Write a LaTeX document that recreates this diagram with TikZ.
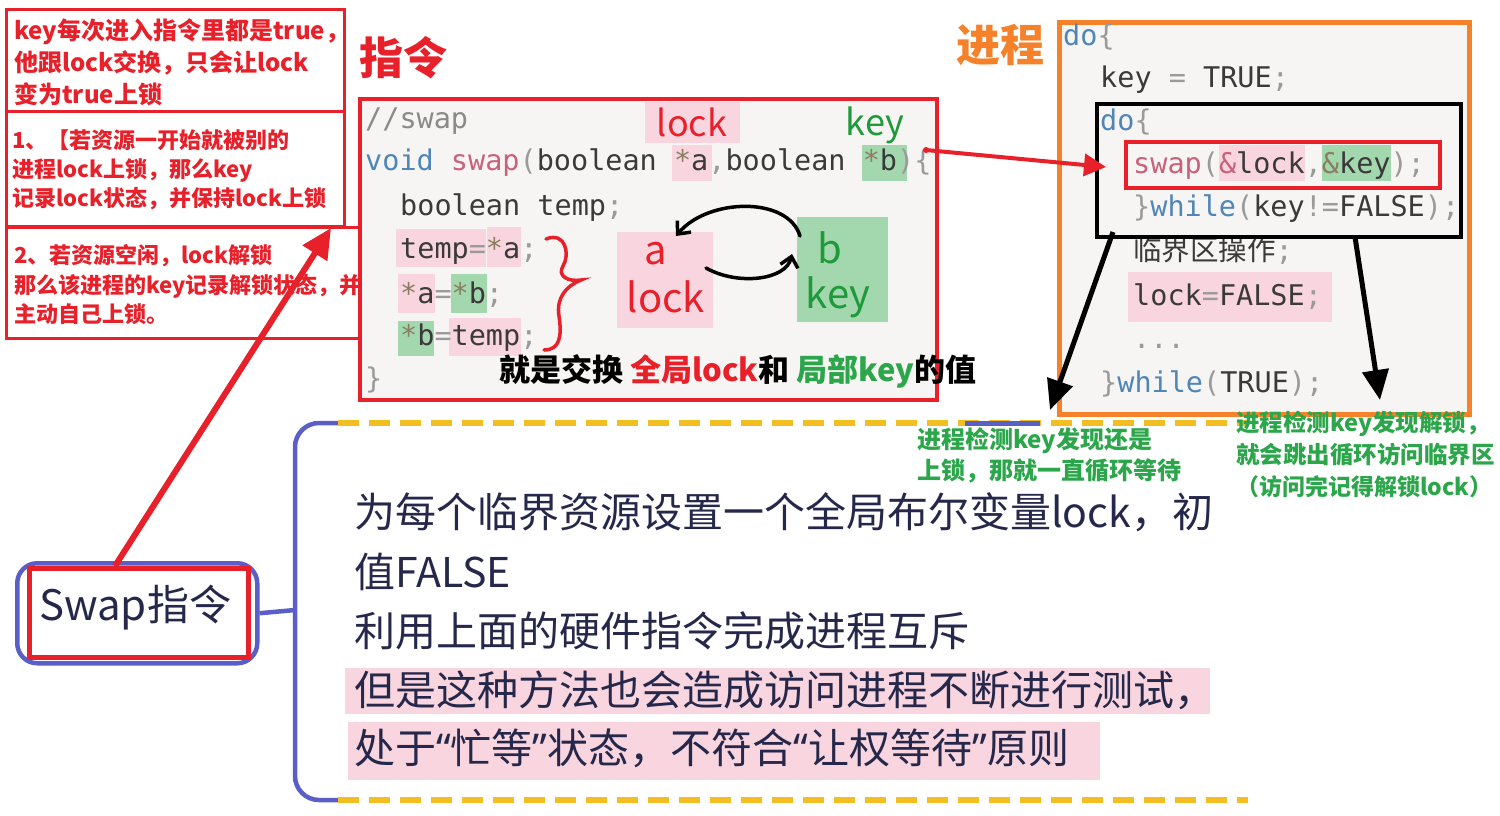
\documentclass[tikz,border=0pt]{standalone}
\usepackage{fontspec}
\setmainfont{Noto Sans CJK SC}
\newfontfamily\monof{DejaVu Sans Mono}
\newfontfamily\latf{Noto Sans}
\usetikzlibrary{arrows.meta}
\definecolor{redc}{HTML}{E8202A}
\definecolor{orangec}{HTML}{F5822A}
\definecolor{greenc}{HTML}{2BA64A}
\definecolor{handgreen}{HTML}{1F9A3A}
\definecolor{pinkbg}{HTML}{F9D6DF}
\definecolor{greenbg}{HTML}{A3D7AE}
\definecolor{codebg}{HTML}{F7F5F4}
\definecolor{navy}{HTML}{25284A}
\definecolor{blueline}{HTML}{5A5FC8}
\definecolor{yellowd}{HTML}{F2BE22}
\definecolor{kwblue}{HTML}{4F86B8}
\definecolor{swapcol}{HTML}{C8627A}
\definecolor{codegray}{HTML}{3A3A3A}
\definecolor{punct}{HTML}{9A9A9A}
\definecolor{starc}{HTML}{8B7D60}
\definecolor{cmt}{HTML}{8A8A8A}
\newcommand\fsz[1]{\fontsize{#1}{#1}\selectfont}
\newcommand\kw[1]{\textcolor{kwblue}{#1}}
\newcommand\sw[1]{\textcolor{swapcol}{#1}}
\newcommand\pu[1]{\textcolor{punct}{#1}}
\newcommand\st{\textcolor{starc}{*}}
\newcommand\myopq{{\latf “}}
\newcommand\myclq{{\latf ”}}
\tikzset{
  notebox/.style={draw=redc, line width=3pt, inner sep=0pt, anchor=north west},
  notetxt/.style={anchor=base west, inner sep=0pt, text=redc, font=\fsz{22}\bfseries},
  codetxt/.style={anchor=base west, inner sep=0pt, text=codegray, font=\monof\fsz{28.5}},
  gtxt/.style={anchor=base west, inner sep=0pt, text=greenc, font=\fsz{24}\bfseries},
  btxt/.style={anchor=base west, inner sep=0pt, text=navy, font=\fsz{41}},
  hand/.style={inner sep=0pt, font=\fsz{40}},
  title/.style={inner sep=0pt, font=\fsz{44}\bfseries},
  blackarrow/.style={line width=5pt, -{Triangle[length=30pt,width=26pt]}},
  yellowdash/.style={yellowd, line width=6pt, dash pattern=on 21pt off 10pt},
}
\begin{document}
\begin{tikzpicture}[x=1pt,y=-1pt]
\useasboundingbox (0,0) rectangle (1500,815);
\fill[white] (0,0) rectangle (1500,815);

% ---------- top-left notes ----------
\node[notebox, minimum width=338pt, minimum height=102pt] (note1) at (5,8) {};
\node[notebox, minimum width=338pt, minimum height=115pt] (note2) at (5,110) {};
\node[notebox, minimum width=353pt, minimum height=111pt] (note3) at (5,226) {};
\node[notetxt, font=\fsz{24}\bfseries] (n1a) at (14,39) {key每次进入指令里都是true，};
\node[notetxt, font=\fsz{24}\bfseries] (n1b) at (14,71) {他跟lock交换，只会让lock};
\node[notetxt, font=\fsz{24}\bfseries] (n1c) at (14,103) {变为true上锁};
\node[notetxt, font=\fsz{22}\bfseries] (n2a) at (12,148) {1、【若资源一开始就被别的};
\node[notetxt, font=\fsz{22}\bfseries] (n2b) at (12,177) {进程lock上锁，那么key};
\node[notetxt, font=\fsz{22}\bfseries] (n2c) at (12,206) {记录lock状态，并保持lock上锁};
\node[notetxt, font=\fsz{22}\bfseries] (n3a) at (14,263) {2、若资源空闲，lock解锁};
\node[notetxt, font=\fsz{22}\bfseries] (n3b) at (14,293) {那么该进程的key记录解锁状态，并};
\node[notetxt, font=\fsz{22}\bfseries] (n3c) at (14,322) {主动自己上锁。};

% ---------- titles ----------
\node[title, text=redc] (t1) at (403,58) {指令};
\node[title, text=orangec] (t2) at (1000,45) {进程};

% ---------- code box (swap) ----------
\node[draw=redc, line width=4pt, fill=codebg, minimum width=577pt, minimum height=301pt, anchor=north west, inner sep=0pt] (codebox) at (358,97) {};
\begin{scope}
\clip (360,99) rectangle (933,396);
\fill[pinkbg] (645,102) rectangle (740,143);
\fill[pinkbg] (672,145) rectangle (712,181);
\fill[greenbg] (862,145) rectangle (907,181);
\fill[pinkbg] (396,229) rectangle (486,267);
\fill[pinkbg] (487,227) rectangle (521,267);
\fill[pinkbg] (398,274) rectangle (435,313);
\fill[greenbg] (451,274) rectangle (487,313);
\fill[greenbg] (398,321) rectangle (434,356);
\fill[pinkbg] (449,318) rectangle (521,356);
\fill[pinkbg] (617,232) rectangle (713,328);
\fill[greenbg] (797,217) rectangle (888,322);
\node[codetxt] (c1) at (365,128) {\textcolor{cmt}{//swap}};
\node[codetxt] (c2) at (365,170) {\kw{void} \sw{swap}\pu{(}boolean \st a\pu{,}boolean \st b\pu{)\{}};
\node[codetxt] (c3) at (400,215) {boolean temp\pu{;}};
\node[codetxt] (c4) at (400,258) {temp\pu{=}\st a\pu{;}};
\node[codetxt] (c5) at (400,303) {\st a\pu{=}\st b\pu{;}};
\node[codetxt] (c6) at (400,345) {\st b\pu{=}temp\pu{;}};
\node[codetxt] (c7) at (365,388) {\pu{\}}};
\end{scope}
\node[hand, text=redc, font=\fsz{36}] (hlock) at (692,122) {lock};
\node[hand, text=handgreen, font=\fsz{36}] (hkey) at (875,125) {key};
\node[hand, text=redc] (ha) at (656,254) {a};
\node[hand, text=redc] (hlock2) at (666,297) {lock};
\node[hand, text=handgreen] (hb) at (830,248) {b};
\node[hand, text=handgreen] (hkey2) at (838,297) {key};
% brace
\draw[redc, line width=3.5pt, line cap=round]
  (546,239) .. controls (566,231) and (570,255) .. (563,266)
  .. controls (557,276) and (568,282) .. (581,280)
  .. controls (566,286) and (556,298) .. (559,316)
  .. controls (562,336) and (560,350) .. (544,350);
% swap arrows
\coordinate (bTop) at (800,236);
\coordinate (aTop) at (676,236);
\coordinate (aRight) at (706,268);
\coordinate (bLeft) at (792,254);
\draw[line width=3.5pt, line cap=round, -{Straight Barb[length=10pt,width=18pt]}]
  (bTop) .. controls (788,196) and (708,198) .. (aTop);
\draw[line width=3.5pt, line cap=round, -{Straight Barb[length=10pt,width=18pt]}]
  (aRight) .. controls (738,286) and (786,280) .. (bLeft);
\node[anchor=base west, inner sep=0pt, font=\fsz{31}\bfseries] (sumtxt) at (499,381)
  {就是交换 \textcolor{redc}{全局lock}和 \textcolor{greenc}{局部key}的值};

% ---------- process box ----------
\node[draw=orangec, line width=5pt, fill=codebg, minimum width=410pt, minimum height=392pt, anchor=north west, inner sep=0pt] (procbox) at (1057,20) {};
\begin{scope}
\clip (1060,23) rectangle (1465,410);
\fill[pinkbg] (1219,145) rectangle (1305,181);
\fill[greenbg] (1322,145) rectangle (1391,181);
\fill[pinkbg] (1128,272) rectangle (1332,322);
\node[codetxt] (p1) at (1063,45) {\kw{do}\pu{\{}};
\node[codetxt] (p2) at (1100,87) {key \pu{=} TRUE\pu{;}};
\node[codetxt] (p3) at (1100,130) {\kw{do}\pu{\{}};
\node[codetxt] (p4) at (1133,173) {\sw{swap}\pu{(}\textcolor{swapcol}{\&}lock\pu{,}\textcolor{starc}{\&}key\pu{);}};
\node[codetxt] (p5) at (1133,216) {\pu{\}}\kw{while}\pu{(}key\pu{!=}FALSE\pu{);}};
\node[codetxt] (p6) at (1133,260) {{\normalfont 临界区操作}\pu{;}};
\node[codetxt] (p7) at (1133,305) {lock\pu{=}FALSE\pu{;}};
\node[codetxt] (p8) at (1133,348) {\pu{...}};
\node[codetxt] (p9) at (1100,392) {\pu{\}}\kw{while}\pu{(}TRUE\pu{);}};
\end{scope}
\node[draw=black, line width=4pt, minimum width=364pt, minimum height=133pt, anchor=north west, inner sep=0pt] (loopbox) at (1095,102) {};
\node[draw=redc, line width=4pt, minimum width=314pt, minimum height=46pt, anchor=north west, inner sep=0pt] (swapcall) at (1124,140) {};

% arrows from the loop box
\coordinate (lbA) at (1113,232);
\coordinate (lbB) at (1355,237);
\coordinate (tipA) at (1050,410);
\coordinate (tipB) at (1380,400);
\draw[blackarrow] (lbA) -- (tipA);
\draw[blackarrow] (lbB) -- (tipB);

% red arrow from swap definition to swap call
\coordinate (defEnd) at (926,150);
\coordinate (callIn) at (1106,167);
\fill[redc] (defEnd) circle (3pt);
\draw[redc, line width=4pt, -{Triangle[length=22pt,width=22pt]}] (defEnd) -- (callIn);

% ---------- mind map ----------
\draw[blueline, line width=4.5pt, rounded corners=24pt] (345,423) -- (295,423) -- (295,800) -- (345,800);
\draw[yellowdash] (338,423) -- (1248,423);
\draw[yellowdash] (338,800) -- (1248,800);
\draw[blueline, line width=5pt] (965,423) -- (1040,423);

\node[draw=blueline, line width=4.5pt, rounded corners=20pt, fill=white, minimum width=240pt, minimum height=100pt, anchor=north west, inner sep=0pt] (swapnode) at (15,561) {};
\node[draw=redc, line width=5pt, minimum width=219pt, minimum height=89pt, anchor=north west, inner sep=0pt] (swapred) at (27,566) {};
\node[inner sep=0pt, text=navy, font=\fsz{42}] (swaptxt) at (135,608) {Swap指令};
\draw[blueline, line width=4.5pt] (swapnode.east) -- (295,610);

\fill[pinkbg] (345,668) rectangle (1210,714);
\fill[pinkbg] (348,722) rectangle (1100,780);
\node[btxt] (l1) at (354,527) {为每个临界资源设置一个全局布尔变量lock，初};
\node[btxt] (l2) at (354,587) {值FALSE};
\node[btxt] (l3) at (354,646) {利用上面的硬件指令完成进程互斥};
\node[btxt] (l4) at (354,705) {但是这种方法也会造成访问进程不断进行测试，};
\node[btxt] (l5) at (354,763) {处于\myopq 忙等\myclq 状态，不符合\myopq 让权等待\myclq 原则};

% ---------- green notes ----------
\node[gtxt] (g1) at (917,448) {进程检测key发现还是};
\node[gtxt] (g2) at (917,479) {上锁，那就一直循环等待};
\node[gtxt, font=\fsz{23.5}\bfseries] (g3) at (1236,431) {进程检测key发现解锁，};
\node[gtxt, font=\fsz{23.5}\bfseries] (g4) at (1236,463) {就会跳出循环访问临界区};
\node[gtxt, font=\fsz{23}\bfseries] (g5) at (1236,495) {（访问完记得解锁lock）};

% big red arrow from Swap node to the notes
\coordinate (swTop) at (115,566);
\coordinate (noteTip) at (331,228);
\draw[redc, line width=6pt, -{Triangle[length=30pt,width=28pt]}] (swTop) -- (noteTip);
\end{tikzpicture}
\end{document}
